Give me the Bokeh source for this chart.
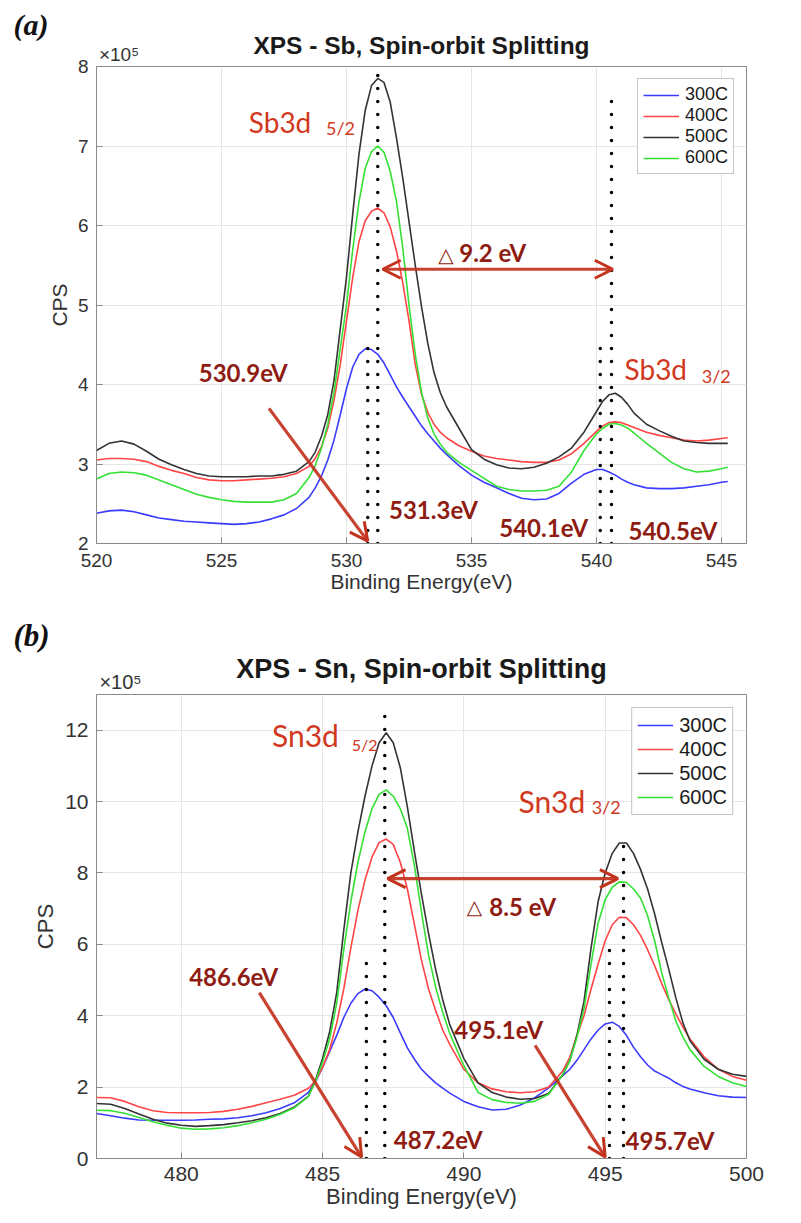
from bokeh.plotting import figure
from bokeh.layouts import column
from bokeh.models import (Label, Arrow, OpenHead, Legend, LegendItem, FixedTicker,
                          Range1d, Title, LinearAxis, CustomJSTickFormatter)
from bokeh.embed import file_html
from bokeh.resources import INLINE

# ---------------- data ----------------
temps = ["300C", "400C", "500C", "600C"]
line_colors = ["#3b3bff", "#ff4545", "#333333", "#35e035"]

# (a) Sb 3d, CPS in units of 1e5
sb_energy = [520, 520.5, 521, 521.5, 522, 522.5, 523, 523.5, 524, 524.5, 525, 525.5, 526, 526.5, 527, 527.5, 528,
             528.5, 528.75, 529, 529.25, 529.5, 529.75, 530, 530.25, 530.5, 530.75, 531, 531.25, 531.5, 531.75,
             532, 532.25, 532.5, 532.75, 533, 533.25, 533.5, 533.75, 534,
             534.5, 535, 535.5, 536, 536.5, 537, 537.5, 538, 538.5, 539, 539.5, 540,
             540.25, 540.5, 540.75, 541, 541.25, 541.5,
             542, 542.5, 543, 543.5, 544, 544.5, 545, 545.25]
sb_300C = [2.38, 2.41, 2.42, 2.40, 2.36, 2.32, 2.30, 2.28, 2.27, 2.26, 2.25, 2.24, 2.25, 2.27, 2.31, 2.36, 2.44,
           2.58, 2.70, 2.85, 3.05, 3.30, 3.62, 3.95, 4.22, 4.38, 4.45, 4.44, 4.38, 4.27, 4.12,
           3.97, 3.84, 3.72, 3.60, 3.48, 3.38, 3.29, 3.20, 3.12,
           2.98, 2.86, 2.77, 2.70, 2.63, 2.57, 2.55, 2.56, 2.63, 2.76, 2.87, 2.93,
           2.93, 2.90, 2.86, 2.81, 2.77, 2.74,
           2.70, 2.69, 2.69, 2.70, 2.72, 2.74, 2.77, 2.78]
sb_400C = [3.05, 3.07, 3.07, 3.06, 3.03, 2.97, 2.92, 2.88, 2.83, 2.80, 2.79, 2.79, 2.80, 2.81, 2.82, 2.84, 2.88,
           2.97, 3.07, 3.22, 3.45, 3.80, 4.25, 4.80, 5.35, 5.80, 6.06, 6.18, 6.22, 6.16, 5.98,
           5.68, 5.28, 4.80, 4.25, 3.88, 3.65, 3.50, 3.40, 3.33,
           3.23, 3.16, 3.10, 3.07, 3.05, 3.03, 3.02, 3.02, 3.05, 3.13, 3.26, 3.41,
           3.48, 3.52, 3.53, 3.52, 3.49, 3.46,
           3.40, 3.36, 3.33, 3.30, 3.29, 3.30, 3.32, 3.33]
sb_500C = [3.17, 3.26, 3.29, 3.25, 3.16, 3.06, 2.99, 2.93, 2.88, 2.85, 2.84, 2.84, 2.84, 2.85, 2.85, 2.87, 2.91,
           3.03, 3.15, 3.35, 3.62, 4.05, 4.70, 5.35, 6.15, 6.90, 7.45, 7.76, 7.85, 7.80, 7.55,
           7.10, 6.60, 6.05, 5.50, 4.98, 4.52, 4.15, 3.90, 3.72,
           3.45, 3.18, 3.06, 2.99, 2.95, 2.94, 2.96, 3.01, 3.09, 3.20, 3.40, 3.66,
           3.79, 3.87, 3.89, 3.84, 3.75, 3.64,
           3.50, 3.42, 3.35, 3.29, 3.27, 3.26, 3.26, 3.26]
sb_600C = [2.81, 2.88, 2.90, 2.89, 2.86, 2.80, 2.74, 2.68, 2.62, 2.58, 2.55, 2.53, 2.52, 2.52, 2.52, 2.55, 2.63,
           2.83, 2.98, 3.20, 3.50, 3.90, 4.45, 5.00, 5.70, 6.30, 6.72, 6.93, 7.00, 6.92, 6.68,
           6.30, 5.72, 5.00, 4.38, 3.90, 3.58, 3.38, 3.25, 3.15,
           3.02, 2.92, 2.82, 2.72, 2.68, 2.66, 2.66, 2.67, 2.72, 2.90, 3.17, 3.38,
           3.45, 3.50, 3.51, 3.49, 3.45, 3.39,
           3.26, 3.14, 3.02, 2.94, 2.90, 2.91, 2.94, 2.96]

# (b) Sn 3d, CPS in units of 1e5
sn_energy = [477, 477.5, 478, 478.5, 479, 479.5, 480, 480.5, 481, 481.5, 482, 482.5, 483, 483.5, 484, 484.5,
             484.75, 485, 485.25, 485.5, 485.75, 486, 486.25, 486.5, 486.75, 487, 487.25, 487.5, 487.75,
             488, 488.25, 488.5, 488.75, 489, 489.25, 489.5,
             490, 490.5, 491, 491.5, 492, 492.5, 493, 493.5,
             493.75, 494, 494.25, 494.5, 494.75, 495, 495.25, 495.5, 495.75, 496, 496.25, 496.5, 496.75,
             497, 497.25, 497.5, 497.75,
             498, 498.5, 499, 499.5, 500]
sn_300C = [1.26, 1.20, 1.13, 1.08, 1.07, 1.07, 1.07, 1.08, 1.10, 1.11, 1.14, 1.20, 1.28, 1.40, 1.56, 1.85,
           2.15, 2.55, 3.00, 3.45, 3.95, 4.35, 4.62, 4.75, 4.70, 4.52, 4.28, 3.95, 3.52,
           3.10, 2.78, 2.50, 2.30, 2.12, 1.97, 1.83,
           1.60, 1.45, 1.36, 1.38, 1.50, 1.70, 1.98, 2.32,
           2.50, 2.75, 3.05, 3.35, 3.60, 3.77, 3.82, 3.70, 3.45, 3.12, 2.85, 2.62, 2.45,
           2.35, 2.25, 2.12, 2.02,
           1.95, 1.84, 1.76, 1.72, 1.71]
sn_400C = [1.71, 1.70, 1.60, 1.45, 1.34, 1.29, 1.28, 1.28, 1.29, 1.32, 1.38, 1.46, 1.56, 1.66, 1.77, 1.97,
           2.18, 2.55, 3.05, 3.80, 4.75, 5.90, 6.95, 7.80, 8.45, 8.85, 8.95, 8.80, 8.30,
           7.55, 6.55, 5.55, 4.75, 4.15, 3.60, 3.20,
           2.50, 2.12, 1.95, 1.87, 1.84, 1.87, 2.00, 2.45,
           2.84, 3.45, 4.00, 4.75, 5.45, 6.10, 6.55, 6.76, 6.75, 6.55, 6.25, 5.85, 5.40,
           4.90, 4.45, 4.05, 3.68,
           3.35, 2.85, 2.50, 2.30, 2.19]
sn_500C = [1.54, 1.52, 1.40, 1.25, 1.10, 0.99, 0.93, 0.90, 0.92, 0.95, 1.00, 1.06, 1.14, 1.26, 1.44, 1.75,
           2.20, 2.80, 3.55, 4.65, 6.40, 8.00, 9.15, 10.15, 11.00, 11.65, 11.93, 11.65, 10.95,
           9.85, 8.60, 7.40, 6.30, 5.30, 4.45, 3.75,
           2.80, 2.12, 1.85, 1.72, 1.66, 1.68, 1.82, 2.35,
           2.75, 3.45, 4.40, 5.90, 7.20, 8.00, 8.55, 8.84, 8.84, 8.55, 8.10, 7.55, 6.85,
           6.05, 5.30, 4.50, 3.80,
           3.30, 2.78, 2.50, 2.36, 2.30]
sn_600C = [1.35, 1.34, 1.27, 1.15, 1.03, 0.93, 0.85, 0.82, 0.83, 0.86, 0.92, 1.00, 1.10, 1.24, 1.42, 1.74,
           2.17, 2.70, 3.35, 4.35, 5.85, 7.20, 8.30, 9.15, 9.80, 10.20, 10.33, 10.15, 9.80,
           9.25, 8.20, 6.90, 5.70, 4.80, 4.10, 3.50,
           2.60, 1.85, 1.65, 1.57, 1.55, 1.60, 1.80, 2.35,
           2.75, 3.40, 4.20, 5.45, 6.60, 7.25, 7.60, 7.75, 7.74, 7.55, 7.30, 6.80, 6.10,
           5.20, 4.50, 3.85, 3.40,
           3.05, 2.58, 2.30, 2.12, 2.02]

sb_ticks_x = [520, 525, 530, 535, 540, 545]
sb_ticks_y = [2, 3, 4, 5, 6, 7, 8]
sn_ticks_x = [480, 485, 490, 495, 500]
sn_ticks_y = [0, 2, 4, 6, 8, 10, 12]

# marked peak energies (dotted lines)
sb_marks = [531.25, 530.85, 540.6, 540.15]
sb_mark_tops = [7.9, 4.6, 7.67, 4.6]
sn_marks = [487.2, 486.55, 495.65, 495.15]
sn_mark_tops = [12.62, 5.78, 8.8, 5.97]

VAL_C = "#8e1c12"
PEAK_C = "#d1381d"
ARROW_C = "#c2331d"
AX_C = "#8a8a8a"
TXT_C = "#333333"


def make_panel(title, tag, exp_x, energy, series, xr, yr, xt, yt, W, H, mb, fs):
    p = figure(width=W, height=H, x_range=Range1d(*xr), y_range=Range1d(*yr),
               output_backend="svg", toolbar_location=None, title=None,
               min_border_left=mb[0], min_border_right=mb[1],
               min_border_top=mb[2], min_border_bottom=mb[3])
    bottom = p.below[0]
    left = p.left[0]
    bottom.ticker = FixedTicker(ticks=xt)
    left.ticker = FixedTicker(ticks=yt)

    # top axis: carries the "x10^5" multiplier (as its one tick label) and the title
    top = LinearAxis(ticker=FixedTicker(ticks=[exp_x]),
                     formatter=CustomJSTickFormatter(code="return '\u00d710\u2075'"),
                     axis_line_color=None, major_tick_line_color=None,
                     minor_tick_line_color=None, major_tick_in=0, major_tick_out=0,
                     major_label_standoff=2,
                     major_label_text_font="Liberation Sans",
                     major_label_text_font_size=f"{fs['exp']}px",
                     major_label_text_color=TXT_C,
                     axis_label=title, axis_label_standoff=fs['tstand'],
                     axis_label_text_font="Liberation Sans",
                     axis_label_text_font_style="bold",
                     axis_label_text_font_size=f"{fs['title']}px",
                     axis_label_text_color="#1a1a1a")
    p.add_layout(top, "above")
    p.add_layout(Title(text=tag, align="left", offset=-83, standoff=fs['tagstand'],
                       text_font="Liberation Serif", text_font_style="bold italic",
                       text_font_size=f"{fs['tag']}px", text_color="#111111"), "above")

    for ax in (bottom, left):
        ax.axis_line_color = AX_C
        ax.major_tick_line_color = AX_C
        ax.major_tick_in = 6
        ax.major_tick_out = 0
        ax.minor_tick_line_color = None
        ax.major_label_text_font = "Liberation Sans"
        ax.major_label_text_font_size = f"{fs['tick']}px"
        ax.major_label_text_color = TXT_C
        ax.axis_label_text_font = "Liberation Sans"
        ax.axis_label_text_font_style = "normal"
        ax.axis_label_text_font_size = f"{fs['label']}px"
        ax.axis_label_text_color = TXT_C
    bottom.axis_label = "Binding Energy(eV)"
    left.axis_label = "CPS"
    bottom.major_label_standoff = fs['xstand']
    left.major_label_standoff = 8
    bottom.axis_label_standoff = 0
    left.axis_label_standoff = 4
    p.grid.grid_line_color = "#e6e6e6"
    p.outline_line_color = AX_C
    p.outline_line_alpha = 1
    p.background_fill_color = "white"

    rs = []
    for ys, c in zip(series, line_colors):
        rs.append(p.line(energy, ys, line_color=c, line_width=1.6))
    legend = Legend(items=[LegendItem(label=n, renderers=[r]) for n, r in zip(temps, rs)],
                    location="top_right", margin=fs['lmargin'], padding=5, spacing=0,
                    glyph_width=36, glyph_height=fs['lrow'], label_height=fs['lrow'],
                    label_standoff=6, label_text_font="Liberation Sans",
                    label_text_font_size=f"{fs['legend']}px", label_text_color="#1a1a1a",
                    border_line_color=AX_C, border_line_width=1,
                    background_fill_color="white", background_fill_alpha=1)
    p.add_layout(legend)
    return p


def lab(p, x, y, text, size, color, style="normal", font="Lato"):
    p.add_layout(Label(x=x, y=y, text=text, text_font=font, text_font_size=f"{size}px",
                       text_font_style=style, text_color=color,
                       text_align="left", text_baseline="middle"))


def arrow(p, x0, y0, x1, y1, both=False):
    head = dict(size=18, line_color=ARROW_C, line_width=3)
    p.add_layout(Arrow(x_start=x0, y_start=y0, x_end=x1, y_end=y1,
                       start=OpenHead(**head) if both else None,
                       end=OpenHead(**head),
                       line_color=ARROW_C, line_width=3.2, line_alpha=0.92))


# ---------------- panel (a) ----------------
pa = make_panel("XPS - Sb, Spin-orbit Splitting", "(a)", 520.9, sb_energy,
                [sb_300C, sb_400C, sb_500C, sb_600C], (520, 546), (2, 8),
                sb_ticks_x, sb_ticks_y, 800, 610, (96, 54, 66, 67),
                dict(title=24.5, tick=19, label=21, legend=18, lrow=20, lmargin=12, xstand=10,
                     exp=19, tstand=-18, tag=30, tagstand=-24))
pa.segment(x0=sb_marks, y0=[2.0] * 4, x1=sb_marks, y1=sb_mark_tops,
           line_color="black", line_width=3.5, line_dash="0 13", line_cap="round")
arrow(pa, 531.45, 5.45, 540.65, 5.45, both=True)
arrow(pa, 526.9, 3.7, 530.85, 2.03)
lab(pa, 526.09, 7.30, "Sb3d", 28, PEAK_C)
lab(pa, 529.18, 7.23, "5/2", 18, PEAK_C)
lab(pa, 541.12, 4.19, "Sb3d", 28, PEAK_C)
lab(pa, 544.21, 4.11, "3/2", 18, PEAK_C)
lab(pa, 533.67, 5.63, "△", 20, VAL_C, font="DejaVu Sans")
lab(pa, 534.51, 5.66, "9.2 eV", 24, VAL_C, "bold")
lab(pa, 524.09, 4.15, "530.9eV", 24, VAL_C, "bold")
lab(pa, 531.70, 2.43, "531.3eV", 24, VAL_C, "bold")
lab(pa, 536.11, 2.195, "540.1eV", 24, VAL_C, "bold")
lab(pa, 541.28, 2.16, "540.5eV", 24, VAL_C, "bold")

# ---------------- panel (b) ----------------
pb = make_panel("XPS - Sn, Spin-orbit Splitting", "(b)", 477.85, sn_energy,
                [sn_300C, sn_400C, sn_500C, sn_600C], (477, 500), (0, 13),
                sn_ticks_x, sn_ticks_y, 800, 612, (80, 53, 84, 64),
                dict(title=27, tick=21, label=22, legend=20, lrow=24, lmargin=13, xstand=8,
                     exp=20, tstand=-16, tag=31, tagstand=-5))
pb.segment(x0=sn_marks, y0=[0.0] * 4, x1=sn_marks, y1=sn_mark_tops,
           line_color="black", line_width=3.5, line_dash="0 13", line_cap="round")
arrow(pb, 487.3, 7.84, 495.45, 7.84, both=True)
arrow(pb, 482.76, 4.65, 486.38, 0.04)
arrow(pb, 492.52, 3.17, 495.0, 0.04)
lab(pb, 483.21, 11.87, "Sn3d", 30, PEAK_C)
lab(pb, 486.03, 11.59, "5/2", 16, PEAK_C)
lab(pb, 491.93, 10.02, "Sn3d", 30, PEAK_C)
lab(pb, 494.52, 9.84, "3/2", 18, PEAK_C)
lab(pb, 490.1, 7.04, "△", 20, VAL_C, font="DejaVu Sans")
lab(pb, 490.9, 7.06, "8.5 eV", 24, VAL_C, "bold")
lab(pb, 480.28, 5.10, "486.6eV", 24, VAL_C, "bold")
lab(pb, 487.52, 0.54, "487.2eV", 24, VAL_C, "bold")
lab(pb, 489.66, 3.62, "495.1eV", 24, VAL_C, "bold")
lab(pb, 495.72, 0.51, "495.7eV", 24, VAL_C, "bold")

layout = column(pa, pb, spacing=0)
open("out.html", "w").write(file_html(layout, INLINE))
